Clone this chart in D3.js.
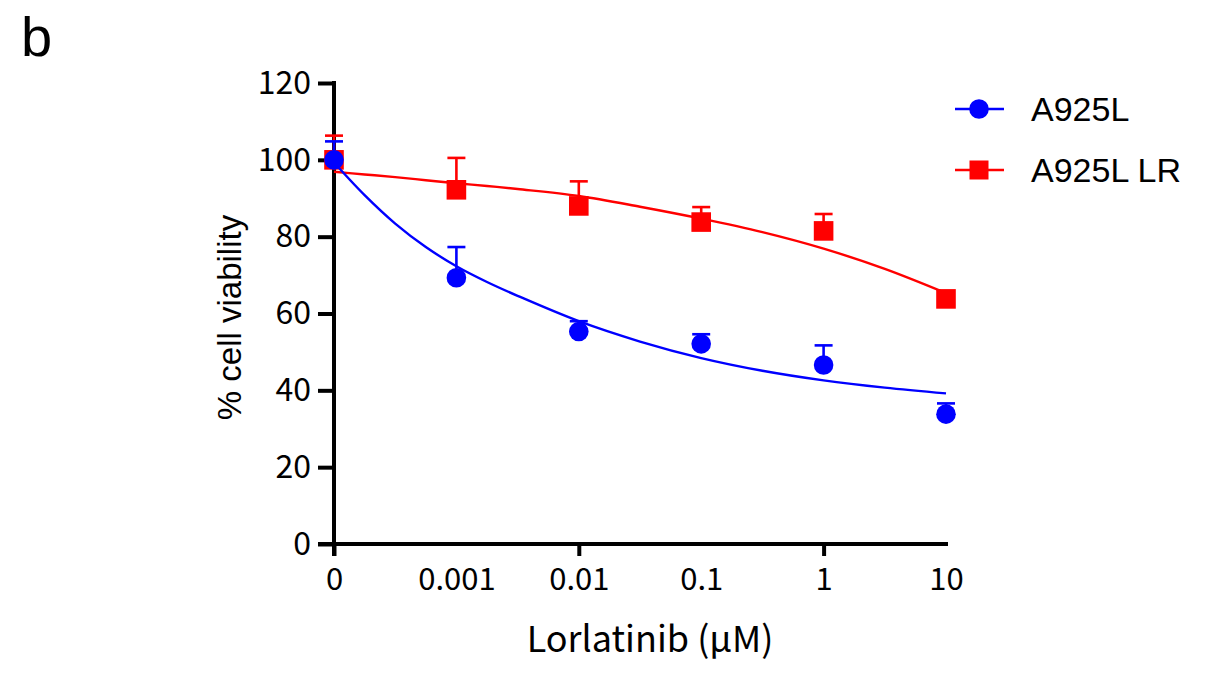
<!DOCTYPE html>
<html>
<head>
<meta charset="utf-8">
<script src="https://cdn.jsdelivr.net/npm/d3@7"></script>
<style>
  body { margin: 0; background: #fff; }
  svg text { fill: #000; }
</style>
</head>
<body>
<div data-js-graph></div>
<script>
// doses (uM), shown as evenly spaced categories
const doses = ['0', '0.001', '0.01', '0.1', '1', '10'];
const tickedDoses = ['0', '0.01', '1'];
const yTicks = [0, 20, 40, 60, 80, 100, 120];

// measured means and upper error (mean + SD)
const a925lMean = [100, 69.3, 55.3, 52.1, 46.6, 33.8];
const a925lErr = [104.8, 77.3, 58.0, 54.6, 51.7, 36.6];
const a925lLrMean = [100, 92.2, 88.0, 83.8, 81.5, 63.8];
const a925lLrErr = [106.3, 100.5, 94.4, 87.7, 85.9, 64.4];

// fitted curves at fractional category positions
const fitPos = [0, 0.25, 0.5, 0.75, 1, 1.25, 1.5, 2, 2.5, 3, 3.5, 4, 4.5, 5];
const a925lFit = [99.3, 90.8, 83.4, 77.3, 72.3, 68.2, 64.6, 58.0, 52.7, 48.4, 45.1, 42.6, 40.7, 39.2];
const a925lLrFit = [96.9, 96.2, 95.5, 94.7, 93.9, 93.2, 92.4, 90.6, 87.8, 84.7, 81.2, 76.9, 71.6, 65.3];

const SETTING = {
  width: 1225,
  height: 674,
  left: 334,
  right: 946,
  top: 83,
  bottom: 544,
};

const svg = d3.select('[data-js-graph]').append('svg')
  .attr('width', SETTING.width)
  .attr('height', SETTING.height);

const x = d3.scalePoint().domain(doses).range([SETTING.left, SETTING.right]);
const xPos = d3.scaleLinear().domain([0, doses.length - 1]).range([SETTING.left, SETTING.right]);
const y = d3.scaleLinear().domain([0, 120]).range([SETTING.bottom, SETTING.top]);

const tickFont = '"Noto Sans CJK JP", "Noto Sans", sans-serif';
const textFont = '"Liberation Sans", Arial, sans-serif';

// panel letter
svg.append('text')
  .attr('x', 21).attr('y', 56)
  .style('font-family', textFont).style('font-size', '56px')
  .text('b');

// y axis
const yAxis = svg.append('g')
  .attr('transform', `translate(${SETTING.left},0)`)
  .call(d3.axisLeft(y).tickValues(yTicks).tickSize(16).tickPadding(7).tickSizeOuter(0));
yAxis.select('.domain').style('stroke', '#000').style('stroke-width', '4px')
  .attr('d', `M0,${y(120) - 2}V${SETTING.bottom + 12}`);
yAxis.selectAll('.tick line').style('stroke', '#000').style('stroke-width', '4px');
yAxis.selectAll('.tick text')
  .style('font-family', tickFont).style('font-size', '32px');

// x axis
const xAxis = svg.append('g')
  .attr('transform', `translate(0,${SETTING.bottom})`)
  .call(d3.axisBottom(x).tickSize(0).tickPadding(24).tickSizeOuter(0));
xAxis.select('.domain').style('stroke', '#000').style('stroke-width', '4px')
  .attr('d', `M${SETTING.left - 16},0H${SETTING.right + 2}`);
xAxis.selectAll('.tick line')
  .style('stroke', '#000').style('stroke-width', '4px')
  .attr('y2', (d) => (tickedDoses.includes(d) ? 12 : 0));
xAxis.selectAll('.tick text')
  .style('font-family', tickFont).style('font-size', '31px');

// axis titles
svg.append('text')
  .attr('transform', `translate(241,${(y(0) + y(120)) / 2 + 4}) rotate(-90)`)
  .attr('text-anchor', 'middle')
  .style('font-family', textFont).style('font-size', '33px')
  .text('% cell viability');

svg.append('text')
  .attr('x', 650).attr('y', 652)
  .attr('text-anchor', 'middle')
  .style('font-family', tickFont).style('font-size', '36px')
  .text('Lorlatinib (μM)');

const line = d3.line()
  .x((d) => xPos(d[0]))
  .y((d) => y(d[1]))
  .curve(d3.curveCatmullRom.alpha(0.5));

function drawSeries(mean, err, fit, color, shape) {
  const g = svg.append('g');
  g.append('path')
    .datum(fitPos.map((p, i) => [p, fit[i]]))
    .attr('fill', 'none')
    .attr('stroke', color)
    .attr('stroke-width', 2.4)
    .attr('d', line);

  const bars = g.selectAll('g.err').data(doses).enter().append('g');
  bars.append('line')
    .attr('x1', (d) => x(d)).attr('x2', (d) => x(d))
    .attr('y1', (d, i) => y(mean[i])).attr('y2', (d, i) => y(err[i]))
    .attr('stroke', color).attr('stroke-width', 2.6);
  bars.append('line')
    .attr('x1', (d) => x(d) - 9).attr('x2', (d) => x(d) + 9)
    .attr('y1', (d, i) => y(err[i])).attr('y2', (d, i) => y(err[i]))
    .attr('stroke', color).attr('stroke-width', 2.6);

  if (shape === 'circle') {
    g.selectAll('circle').data(doses).enter().append('circle')
      .attr('cx', (d) => x(d)).attr('cy', (d, i) => y(mean[i]))
      .attr('r', 9.8).attr('fill', color);
  } else {
    g.selectAll('rect').data(doses).enter().append('rect')
      .attr('x', (d) => x(d) - 9.8).attr('y', (d, i) => y(mean[i]) - 9.8)
      .attr('width', 19.6).attr('height', 19.6).attr('fill', color);
  }
}

drawSeries(a925lLrMean, a925lLrErr, a925lLrFit, '#ff0000', 'square');
drawSeries(a925lMean, a925lErr, a925lFit, '#0000ff', 'circle');

// legend
const legendItems = [
  { name: 'A925L', color: '#0000ff', shape: 'circle', y: 109 },
  { name: 'A925L LR', color: '#ff0000', shape: 'square', y: 170 },
];
const legend = svg.append('g');
legendItems.forEach((item) => {
  legend.append('line')
    .attr('x1', 955).attr('x2', 1004)
    .attr('y1', item.y).attr('y2', item.y)
    .attr('stroke', item.color).attr('stroke-width', 2.4);
  if (item.shape === 'circle') {
    legend.append('circle').attr('cx', 979).attr('cy', item.y).attr('r', 9.8).attr('fill', item.color);
  } else {
    legend.append('rect').attr('x', 969.5).attr('y', item.y - 9.5)
      .attr('width', 19).attr('height', 19).attr('fill', item.color);
  }
  legend.append('text')
    .attr('x', 1031).attr('y', item.y + 12)
    .style('font-family', textFont).style('font-size', '34px')
    .text(item.name);
});
</script>
</body>
</html>
